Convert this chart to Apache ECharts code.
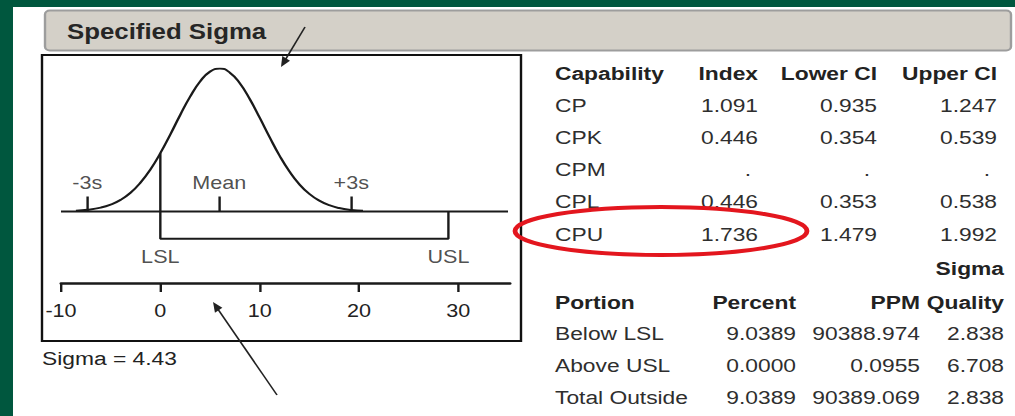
<!DOCTYPE html>
<html><head><meta charset="utf-8">
<script src="https://cdn.jsdelivr.net/npm/echarts@6/dist/echarts.min.js"></script>
<style>
html,body{margin:0;padding:0;background:#fff;overflow:hidden;width:1015px;height:416px;}
#chart{width:845.833px;height:416px;transform:scaleX(1.2);transform-origin:0 0;}
</style></head><body><div id="chart"></div>
<script>
// ---------------- data ----------------
const titleText = 'Specified Sigma';
const xTickValues = [-10, 0, 10, 20, 30];
const axisMin = -10, axisMax = 35.2;
const baselineRange = [-10, 35];
// curve (x value, relative height)
const curveX = [-8.5, -7.3, -6, -5, -4, -3, -2, -1, 0, 1, 2, 3, 4, 5, 6, 7, 8, 9, 10, 11, 12, 13, 14, 15, 16, 17, 18, 19.2, 20.4];
const curveY = [0.005, 0.012, 0.027, 0.048, 0.081, 0.131, 0.202, 0.294, 0.408, 0.538, 0.675, 0.803, 0.909, 0.978, 1.0, 0.971, 0.897, 0.787, 0.656, 0.520, 0.391, 0.280, 0.190, 0.123, 0.076, 0.044, 0.024, 0.011, 0.005];
const lsl = 0, usl = 29;
const lslCurveHeight = 0.408;
const markerNames = ['-3s', 'Mean', '+3s'];
const markerValues = [-7.36, 5.93, 19.22];
const specNames = ['LSL', 'USL'];
const sigmaValue = '4.43';

const capHeaders = ['Capability', 'Index', 'Lower CI', 'Upper CI'];
const capNames = ['CP', 'CPK', 'CPM', 'CPL', 'CPU'];
const capIndex = ['1.091', '0.446', '.', '0.446', '1.736'];
const capLower = ['0.935', '0.354', '.', '0.353', '1.479'];
const capUpper = ['1.247', '0.539', '.', '0.538', '1.992'];

const portionHeaders = ['Portion', 'Percent', 'PPM', 'Quality'];
const portionHeaderTop = 'Sigma';
const portionNames = ['Below LSL', 'Above USL', 'Total Outside'];
const portionPercent = ['9.0389', '0.0000', '9.0389'];
const portionPPM = ['90388.974', '0.0955', '90389.069'];
const portionSigma = ['2.838', '6.708', '2.838'];

// ---------------- layout ----------------
const S = 1.2;                 // horizontal stretch of the reference
const W = 1015 / S;
const X = px => px / S;
const FF = '"Liberation Sans", Arial, sans-serif';
const INK = '#1a1a1a';
const TXT = '#2e2e2e';
const LBL = '#222';

// levels in chart units (y axis: baseline 0, peak 1)
const bracketLevel = -0.19;
const markerTickTop = 0.105;
const markerLabelLevel = 0.2;
const specLabelLevel = -0.318;

const curvePts = curveX.map((x, i) => [x, curveY[i]]);

function txt(text, x, y, align, bold, size, color) {
  return {
    type: 'text', x: X(x), y: y, silent: true,
    style: {
      text: text, fontFamily: FF, fontSize: size || 19,
      fontWeight: bold ? 'bold' : 'normal', fill: color || (bold ? '#222' : TXT),
      align: align, verticalAlign: 'middle'
    }
  };
}
function arrow(x1, y1, x2, y2) {
  const dx = x2 - x1, dy = y2 - y1, L = Math.hypot(dx, dy), ux = dx / L, uy = dy / L;
  const hl = 10, hw = 4.5;
  const bx = x2 - ux * hl, by = y2 - uy * hl;
  return [
    { type: 'line', silent: true, shape: { x1: X(x1), y1: y1, x2: X(bx + ux * 2), y2: by + uy * 2 }, style: { stroke: '#222', lineWidth: 1.4 } },
    { type: 'polygon', silent: true, shape: { points: [[X(x2), y2], [X(bx - uy * hw), by + ux * hw], [X(bx + uy * hw), by - ux * hw]] }, style: { fill: '#222' } }
  ];
}

const graphics = [];
// green frame
graphics.push({ type: 'rect', silent: true, shape: { x: 0, y: 0, width: W, height: 7 }, style: { fill: '#00573e' } });
graphics.push({ type: 'rect', silent: true, shape: { x: 0, y: 0, width: X(13), height: 416 }, style: { fill: '#00573e' } });
// header bar
graphics.push({ type: 'rect', silent: true, shape: { x: X(45), y: 10.5, width: X(1011 - 45), height: 40, r: 4 }, style: { fill: '#d4d0c8', stroke: '#9d9d9d', lineWidth: 2 } });
graphics.push(txt(titleText, 67, 32, 'left', true, 21.5, '#262626'));
// plot box
graphics.push({ type: 'rect', silent: true, shape: { x: X(42), y: 55, width: X(521 - 42), height: 286 }, style: { fill: 'none', stroke: '#111', lineWidth: 2 } });
graphics.push(txt('Sigma = ' + sigmaValue, 42, 358, 'left', false, 19, LBL));

// capability table
const capCols = [555, 758, 877, 997];
const capRows = [73, 105, 137, 169, 201, 234];
capHeaders.forEach((h, c) => graphics.push(txt(h, capCols[c], capRows[0], c === 0 ? 'left' : 'right', true)));
capNames.forEach((n, r) => {
  const y = capRows[r + 1];
  graphics.push(txt(n, capCols[0], y, 'left', false));
  [capIndex, capLower, capUpper].forEach((arr, c) => {
    const v = arr[r];
    graphics.push(txt(v, capCols[c + 1] - (v === '.' ? 7 : 0), y, 'right', false));
  });
});

// portion table
const porCols = [555, 796, 920, 1004];
const porRows = [302, 333, 365, 397];
graphics.push(txt(portionHeaderTop, porCols[3], 268, 'right', true));
portionHeaders.forEach((h, c) => graphics.push(txt(h, porCols[c], porRows[0], c === 0 ? 'left' : 'right', true)));
portionNames.forEach((n, r) => {
  const y = porRows[r + 1];
  graphics.push(txt(n, porCols[0], y, 'left', false));
  [portionPercent, portionPPM, portionSigma].forEach((arr, c) => {
    graphics.push(txt(arr[r], porCols[c + 1], y, 'right', false));
  });
});

// red highlight ellipse
graphics.push({ type: 'ellipse', silent: true, shape: { cx: X(661), cy: 231, rx: X(146), ry: 24 }, style: { fill: 'none', stroke: '#e3161e', lineWidth: 4 } });
// annotation arrows
graphics.push(...arrow(305, 27, 281, 67));
graphics.push(...arrow(277, 395, 213, 302));

const labelStyle = { show: true, position: 'inside', formatter: '{b}', fontSize: 18, color: LBL, fontFamily: FF, textBorderWidth: 0 };

const chart = echarts.init(document.getElementById('chart'), null, { renderer: 'svg', width: W, height: 416 });
chart.setOption({
  animation: false,
  backgroundColor: '#ffffff',
  grid: { left: X(61), right: W - X(510), top: 68.5, bottom: 416 - 283, containLabel: false },
  xAxis: {
    type: 'value', min: axisMin, max: axisMax, interval: 10,
    axisLine: { show: true, onZero: false, lineStyle: { color: INK, width: 2.5 } },
    axisTick: { show: true, inside: false, length: 9, customValues: xTickValues, lineStyle: { color: INK, width: 2 } },
    axisLabel: { customValues: xTickValues, margin: 19, fontSize: 18, color: LBL, fontFamily: FF },
    splitLine: { show: false }
  },
  yAxis: { type: 'value', min: -0.5, max: 1, show: false },
  series: [
    { type: 'line', data: curvePts, smooth: true, symbol: 'none', lineStyle: { color: INK, width: 2 }, z: 3 },
    { type: 'line', data: [[baselineRange[0], 0], [baselineRange[1], 0]], symbol: 'none', lineStyle: { color: INK, width: 2 } },
    { type: 'line', data: [[lsl, lslCurveHeight], [lsl, bracketLevel], [usl, bracketLevel], [usl, 0]], symbol: 'none', lineStyle: { color: INK, width: 2 } },
    { type: 'lines', coordinateSystem: 'cartesian2d', data: markerValues.map(v => ({ coords: [[v, 0], [v, markerTickTop]] })), lineStyle: { color: INK, width: 2, opacity: 1 } },
    { type: 'scatter', symbolSize: 2, itemStyle: { color: 'rgba(0,0,0,0)' }, z: 5,
      data: markerNames.map((n, i) => ({ name: n, value: [markerValues[i], markerLabelLevel] })),
      label: labelStyle },
    { type: 'scatter', symbolSize: 2, itemStyle: { color: 'rgba(0,0,0,0)' }, z: 5,
      data: specNames.map((n, i) => ({ name: n, value: [[lsl, usl][i], specLabelLevel] })),
      label: labelStyle }
  ],
  graphic: { elements: graphics }
});
</script></body></html>
